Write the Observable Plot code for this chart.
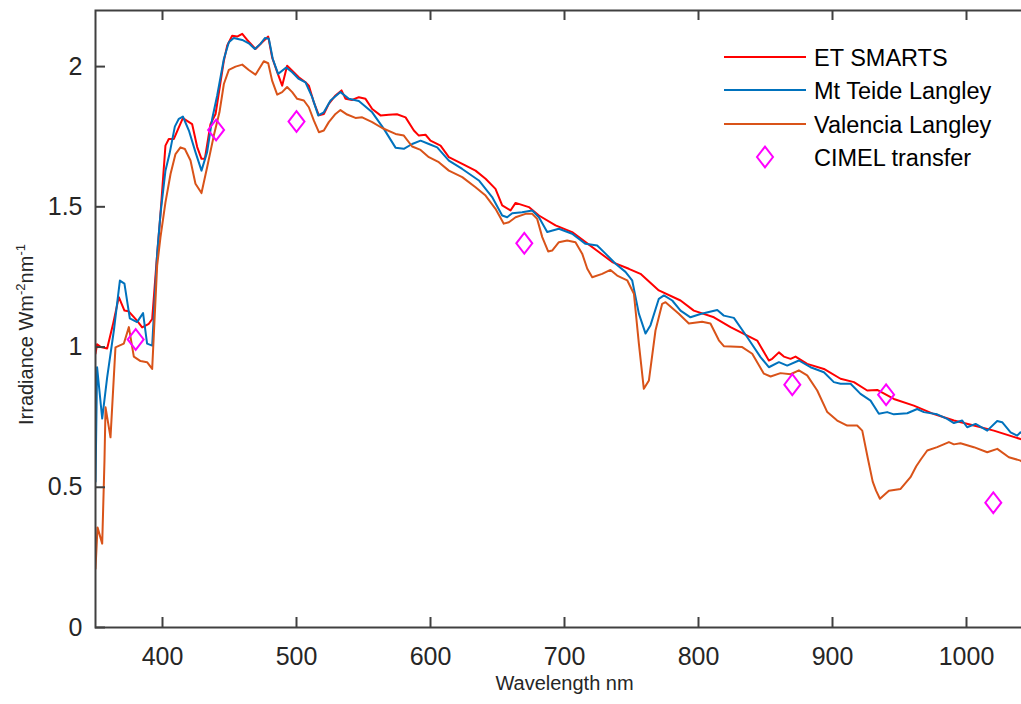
<!DOCTYPE html>
<html>
<head>
<meta charset="utf-8">
<script src="https://cdn.jsdelivr.net/npm/d3@7"></script>
<script src="https://cdn.jsdelivr.net/npm/@observablehq/plot@0.6"></script>
<style>
  html, body { margin: 0; padding: 0; background: #fff; overflow: hidden; }
  #chart { position: relative; width: 1021px; height: 704px; overflow: hidden; }
  #chart svg { max-width: none !important; }
</style>
</head>
<body>
<div id="chart"></div>
<script>
// ---- Data ----
const etWl = [350,351.2,354,358.7,363,367.4,371.6,374.6,381,384.8,389.8,392.3,395.5,398.5,402.2,404.7,408.5,411.7,415.2,422.1,425.9,429.1,431.6,435.8,439.6,445.8,448.3,452,455.7,459.5,463.2,469.4,474.4,478.9,481.8,485.6,489.3,493,496.8,501.7,506.7,509.2,512.9,516.7,520.4,524.1,529.1,533.6,536.6,541.5,546.5,551.5,556.5,562.7,568.9,575,581.4,587.6,591.3,596.3,600,607.5,613.7,623.7,633.6,641.1,648.5,653.5,659.7,663.5,673.4,680.9,693.3,705.7,715.7,725.6,735.6,748,756.7,770.4,786.6,796.5,811.5,823.9,836.4,843.8,852.5,855,860,863.7,868.7,872.4,881.1,893.6,906,916,925.9,933.4,945.8,960.7,975.7,990.6,1005.5,1020.4,1040.3,1050];
const etVal = [0.977,1.01,1.0,0.995,1.08,1.178,1.13,1.128,1.094,1.07,1.083,1.1,1.3,1.475,1.718,1.742,1.742,1.778,1.816,1.795,1.713,1.671,1.671,1.795,1.831,2.021,2.075,2.110,2.107,2.117,2.095,2.063,2.087,2.107,2.033,1.980,1.932,2.003,1.985,1.962,1.944,1.932,1.873,1.826,1.831,1.867,1.897,1.915,1.885,1.881,1.891,1.885,1.849,1.826,1.828,1.830,1.819,1.772,1.754,1.757,1.736,1.718,1.677,1.653,1.629,1.600,1.564,1.505,1.487,1.514,1.499,1.469,1.434,1.410,1.374,1.339,1.303,1.279,1.261,1.202,1.166,1.130,1.106,1.071,1.041,1.023,0.952,0.958,0.981,0.966,0.958,0.966,0.940,0.922,0.887,0.875,0.845,0.847,0.815,0.791,0.761,0.738,0.720,0.702,0.672,0.660];

const mtWl = [350,351.2,355,358.7,363.7,368.2,371.6,375.6,381,385.5,388.5,392.3,396,398.5,402.2,405.2,409.2,412.2,415.2,419.7,424.6,429.1,433.3,437.1,440.8,445.8,449.5,453.2,459.5,464.4,468.9,473.1,476.4,479.4,482.3,486.3,492.3,496.8,501.7,506.7,511.7,516.2,520.4,525.4,532.8,539.1,546.5,556.5,565.2,573.9,580.1,586.3,592.6,598.8,605,613.7,623.7,636.1,646,653.5,657.2,661,668.4,675.9,680.9,687.1,695.8,705.7,715.7,724.4,730.6,738.1,745.5,750.5,755.5,760.5,764.2,770.4,774.2,780.4,786.6,794,801.5,814,818.9,826.4,836.4,846.3,852.5,860,866.2,874.9,883.6,893.6,901,906,913.5,920.9,928.4,934.6,940.8,945.8,955.8,963.2,968.2,978.1,985.6,990.6,996.8,1000.5,1006.8,1015.5,1022.9,1026.6,1032.9,1037.8,1040.3,1050];
const mtVal = [0.52,0.928,0.745,0.892,1.059,1.237,1.226,1.102,1.089,1.121,1.012,1.005,1.333,1.475,1.629,1.688,1.786,1.814,1.822,1.772,1.695,1.629,1.695,1.814,1.897,2.027,2.087,2.102,2.095,2.083,2.063,2.081,2.102,2.099,2.027,1.974,1.997,1.980,1.956,1.944,1.891,1.826,1.837,1.879,1.909,1.885,1.877,1.837,1.778,1.711,1.707,1.724,1.736,1.724,1.712,1.665,1.635,1.594,1.535,1.469,1.463,1.477,1.481,1.487,1.463,1.410,1.422,1.404,1.368,1.362,1.333,1.297,1.268,1.238,1.119,1.048,1.078,1.172,1.184,1.166,1.130,1.106,1.118,1.132,1.112,1.104,1.035,0.964,0.928,0.946,0.934,0.952,0.928,0.910,0.875,0.869,0.869,0.833,0.809,0.762,0.768,0.760,0.764,0.779,0.768,0.760,0.744,0.729,0.738,0.714,0.726,0.702,0.736,0.732,0.696,0.684,0.696,0.675];

const vaWl = [350,351.5,355,356.7,357.5,361.2,364.9,371.1,374.9,378.6,383.6,388.5,392.3,396,398.5,402.2,406,409.7,413.4,416.7,420.9,424.6,429.1,433.3,438.3,442.5,445.8,449.5,454.5,459.5,464.4,469.4,475.6,478.9,481.8,485.6,489.3,493,496.8,500.5,505.5,509.2,512.9,516.7,520.4,524.1,529.1,532.8,537.8,544,549,556.5,563.9,573.9,580.1,586.3,592.6,598.8,606.2,613.7,623.7,633.6,641.1,648.5,654.7,658.5,663.5,670.9,675.9,679.6,683.4,687.8,690.8,695.8,702,708.2,713.2,717,720.7,728.1,734.3,739.3,746.8,751.8,755.5,759.2,763,767.9,772.9,775.4,785.3,792.8,802.7,808.9,815.2,818.9,823.9,832.6,840.1,848.8,853.8,861.2,868.7,874.9,881.1,888.6,896.1,903.5,911,918.4,922.2,926.5,930,932.5,935.4,942.1,950.8,958.2,962.5,966,970.7,978.1,986.9,990.6,995.5,1005.5,1015.5,1023,1031.6,1040.3,1050];
const vaVal = [0.21,0.357,0.299,0.595,0.785,0.678,0.999,1.012,1.071,0.966,0.950,0.946,0.922,1.29,1.392,1.516,1.617,1.688,1.712,1.706,1.665,1.582,1.549,1.641,1.754,1.837,1.938,1.988,2.000,2.007,1.988,1.971,2.019,2.012,1.950,1.900,1.909,1.927,1.909,1.885,1.879,1.855,1.808,1.766,1.772,1.802,1.831,1.845,1.829,1.817,1.819,1.802,1.781,1.760,1.754,1.715,1.703,1.677,1.659,1.629,1.606,1.570,1.540,1.493,1.440,1.445,1.463,1.475,1.475,1.457,1.392,1.341,1.344,1.374,1.380,1.374,1.333,1.279,1.249,1.261,1.275,1.255,1.238,1.190,1.012,0.851,0.881,1.059,1.154,1.160,1.119,1.084,1.090,1.084,1.024,1.003,1.002,1.000,0.976,0.905,0.895,0.907,0.903,0.917,0.899,0.845,0.768,0.738,0.720,0.720,0.702,0.6,0.52,0.488,0.459,0.488,0.494,0.536,0.575,0.60,0.631,0.643,0.661,0.653,0.657,0.643,0.625,0.637,0.607,0.595,0.565];

const cimelWl = [380,440,500,670,870,940,1020];
const cimelVal = [1.027,1.774,1.804,1.370,0.866,0.830,0.445];

const xTicks = [400,500,600,700,800,900,1000];
const yTicks = [0,0.5,1,1.5,2];
const yTickLabels = ["0","0.5","1","1.5","2"];

const seriesNames = ["ET SMARTS","Mt Teide Langley","Valencia Langley","CIMEL transfer"];
const seriesColors = ["#ff0000","#0072bd","#d95319","#ff00ff"];

// ---- Build tables ----
const toRows = (wl, val) => wl.map((w, i) => ({wl: w, v: val[i]}));
const etRows = toRows(etWl, etVal);
const mtRows = toRows(mtWl, mtVal);
const vaRows = toRows(vaWl, vaVal);
const cimelRows = toRows(cimelWl, cimelVal);

// tall diamond symbol like MATLAB's 'd' marker
const tallDiamond = {
  draw(context, size) {
    const r = Math.sqrt(size / Math.PI);
    context.moveTo(0, -1.3 * r);
    context.lineTo(r, 0);
    context.lineTo(0, 1.3 * r);
    context.lineTo(-r, 0);
    context.closePath();
  }
};

const FONT = "'Liberation Sans', Arial, Helvetica, sans-serif";
const INK = "#262626";
const AXIS = "#404040";
const TICK = 10;
const W = 1045, H = 704, ML = 95, MR = 12, MT = 10, MB = 77;
const FW = W - ML - MR, FH = H - MT - MB;
const xDom = [350, 1050], yDom = [0, 2.2];
// tick lengths expressed in data units of each scale
const tickLenY = TICK / FH * (yDom[1] - yDom[0]);
const tickLenX = TICK / FW * (xDom[1] - xDom[0]);

const chart = Plot.plot({
  width: W,
  height: H,
  marginLeft: ML,
  marginRight: MR,
  marginTop: MT,
  marginBottom: MB,
  style: {fontFamily: FONT, fontSize: "25px", color: INK, background: "#fff", maxWidth: "none"},
  x: {domain: xDom},
  y: {domain: yDom},
  marks: [
    Plot.line(etRows, {x: "wl", y: "v", stroke: seriesColors[0], strokeWidth: 2, clip: true}),
    Plot.line(mtRows, {x: "wl", y: "v", stroke: seriesColors[1], strokeWidth: 2, clip: true}),
    Plot.line(vaRows, {x: "wl", y: "v", stroke: seriesColors[2], strokeWidth: 2, clip: true}),
    Plot.dot(cimelRows, {x: "wl", y: "v", stroke: seriesColors[3], strokeWidth: 2, r: 8, symbol: tallDiamond, fill: "none"}),
    Plot.frame({stroke: AXIS, strokeWidth: 2}),
    // inward tick marks
    Plot.ruleX(xTicks, {x: (d) => d, y1: yDom[0], y2: yDom[0] + tickLenY, stroke: AXIS, strokeWidth: 2}),
    Plot.ruleX(xTicks, {x: (d) => d, y1: yDom[1] - tickLenY, y2: yDom[1], stroke: AXIS, strokeWidth: 2}),
    Plot.ruleY(yTicks, {y: (d) => d, x1: xDom[0], x2: xDom[0] + tickLenX, stroke: AXIS, strokeWidth: 2}),
    // tick labels
    Plot.axisX({anchor: "bottom", ticks: xTicks, tickSize: 0, tickPadding: 20, tickFormat: (d) => String(d), label: null, fontSize: 25, fill: INK}),
    Plot.axisY({anchor: "left", ticks: yTicks, tickSize: 0, tickPadding: 13, tickFormat: (d) => yTickLabels[yTicks.indexOf(d)], label: null, fontSize: 25, fill: INK}),
    Plot.text(["Wavelength nm"], {frameAnchor: "bottom", dy: 62, fontSize: 20, fill: INK, text: (d) => d})
  ]
});

document.getElementById("chart").appendChild(chart);

// ---- y-axis label with superscripts ----
const svg = d3.select(chart);
const ylab = svg.append("text")
  .attr("transform", "translate(33,425) rotate(-90)")
  .attr("text-anchor", "start")
  .attr("font-family", FONT)
  .attr("font-size", 20)
  .attr("fill", INK);
ylab.append("tspan").text("Irradiance Wm");
ylab.append("tspan").attr("dy", -8).attr("font-size", 13).text("-2");
ylab.append("tspan").attr("dy", 8).text("nm");
ylab.append("tspan").attr("dy", -8).attr("font-size", 13).text("-1");

// ---- legend ----
const leg = svg.append("g").attr("font-family", FONT).attr("font-size", 23.5).attr("fill", "#000").attr("text-anchor", "start");
const legY = [57, 90, 124, 157];
seriesNames.forEach((name, i) => {
  const y = legY[i];
  if (i < 3) {
    leg.append("line").attr("x1", 724).attr("x2", 806).attr("y1", y).attr("y2", y)
      .attr("stroke", seriesColors[i]).attr("stroke-width", 2);
  } else {
    leg.append("path").attr("transform", `translate(765,${y})`)
      .attr("d", d3.symbol(tallDiamond, Math.PI * 64)())
      .attr("fill", "none").attr("stroke", seriesColors[i]).attr("stroke-width", 2);
  }
  leg.append("text").attr("x", 814).attr("y", y + 9).attr("text-anchor", "start").text(name);
});
</script>
</body>
</html>
